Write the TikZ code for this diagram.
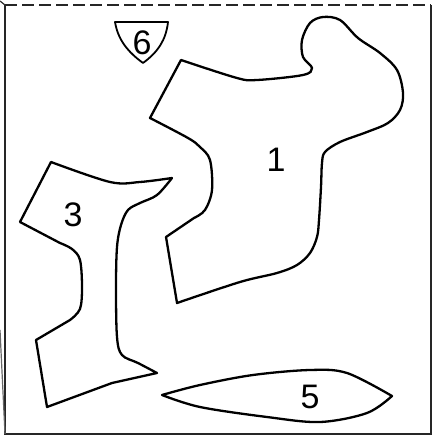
\documentclass[tikz,border=0pt]{standalone}
\usepackage{fontspec}
\setmainfont{Liberation Sans}
\begin{document}
\begin{tikzpicture}[x=1pt,y=-1pt,
  blob/.style={draw=black, line width=2.3pt, line join=round},
  frameline/.style={draw=black!85, line width=2.8pt},
  lbl/.style={font=\fontsize{34}{34}\selectfont, inner sep=0pt}]
\useasboundingbox (0,0) rectangle (433,439);
% frame
\coordinate (tl) at (5,5);
\coordinate (tr) at (431,5);
\coordinate (br) at (431,434);
\coordinate (bl) at (5,434);
\draw[frameline, dash pattern=on 12pt off 5pt] (tl) -- (tr);
\draw[frameline] (tr) -- (br) -- (bl) -- (tl);
\coordinate (s0) at (0,1);
\coordinate (s1) at (0,330);
\draw[line width=1.2pt, black!80] (s0) -- (tl);
\draw[line width=1.2pt, black!60] (s1) -- (bl);
% shape 1
\draw[blob] plot[smooth, tension=0.55] coordinates {(181,60) (237,78) (257,80) (303,75) (312,68) (303,57) (302,40) (310,23) (323,17) (340,20) (358,38) (380,53) (397,70) (403,93) (400,110) (388,123) (367,132) (340,142) (325,152) (322,163) (321,187) (319,220) (317,237) (310,253) (297,265) (277,273) (240,282) (177,303)}
  -- (166,237) -- plot[smooth, tension=0.55] coordinates {(194,218) (205,210) (212,190) (210,160) (200,147) (188,138) (150,118)} -- cycle;
\node[lbl] (n1) at (276,160) {1};
% shape 3
\draw[blob] plot[smooth, tension=0.55] coordinates {(51,162) (110,182) (140,182) (172,178)}
  -- plot[smooth, tension=0.55] coordinates {(172,178) (157,195) (140,203) (128,210) (121,225) (117,247) (116,287) (117,337) (122,355) (138,363) (157,373)}
  -- (112,383) -- (47,407) -- (36,340) -- plot[smooth, tension=0.55] coordinates {(70,320) (80,309) (82,287) (80,260) (72,249) (60,243)} -- (20,222) -- cycle;
\node[lbl] (n3) at (73,215) {3};
% shape 5
\draw[blob] plot[smooth, tension=0.55] coordinates {(162,395) (200,385) (253,375) (310,370) (347,373) (392,396)}
  -- plot[smooth, tension=0.55] coordinates {(392,396) (367,413) (320,422) (267,417) (200,407) (162,395)} -- cycle;
\node[lbl] (n5) at (310,397) {5};
% shape 6
\draw[blob, line width=1.8pt] (115,22) -- (168,22) .. controls (166,40) and (158,52) .. (143,63) .. controls (128,52) and (118,40) .. (115,22) -- cycle;
\node[lbl] (n6) at (142,43) {6};
\end{tikzpicture}
\end{document}
